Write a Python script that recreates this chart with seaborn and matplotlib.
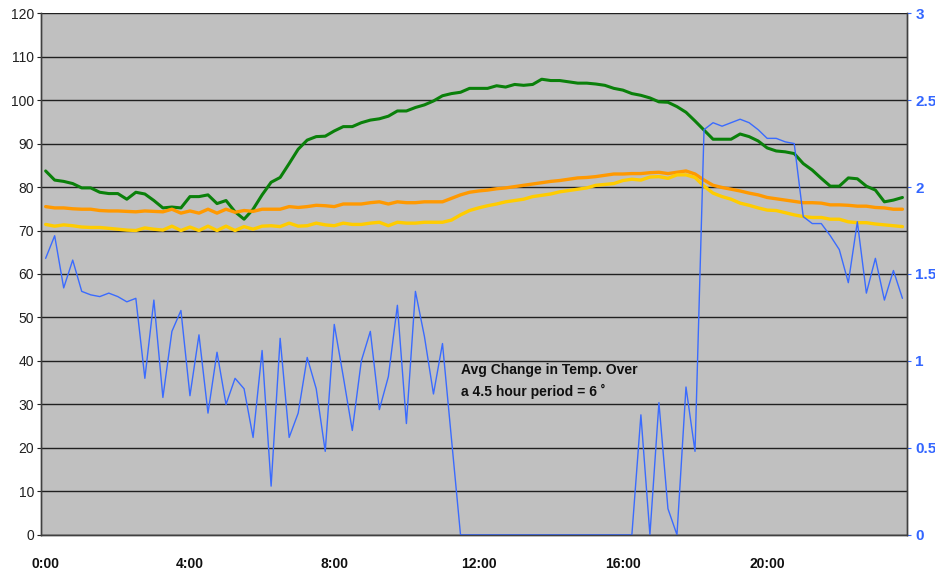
import numpy as np
import pandas as pd
import seaborn as sns
import matplotlib.pyplot as plt

# 15-minute readings over one day (96 slots)
times = ['%d:%02d' % (h, m) for h in range(24) for m in (0, 15, 30, 45)]

green = [83.7, 81.6, 81.3, 80.8, 79.8, 79.8, 78.8, 78.5, 78.5, 77.2,
         78.8, 78.4, 76.9, 75.2, 75.4, 75.2, 77.8, 77.8, 78.2, 76.2,
         76.9, 74.3, 72.6, 74.9, 78.2, 81.1, 82.2, 85.4, 88.7, 90.8,
         91.6, 91.7, 92.9, 93.9, 93.9, 94.8, 95.4, 95.7, 96.3, 97.5,
         97.5, 98.3, 98.9, 99.8, 101.0, 101.5, 101.8, 102.7, 102.7, 102.7,
         103.3, 103.0, 103.6, 103.4, 103.6, 104.8, 104.5, 104.5, 104.2, 103.9,
         103.9, 103.7, 103.4, 102.7, 102.3, 101.5, 101.1, 100.5, 99.6, 99.5,
         98.5, 97.2, 95.2, 93.1, 91.0, 91.0, 91.0, 92.2, 91.6, 90.6,
         89.0, 88.3, 88.1, 87.7, 85.4, 83.9, 82.0, 80.2, 80.2, 82.1,
         81.9, 80.2, 79.3, 76.6, 77.0, 77.6]

orange = [75.5, 75.2, 75.2, 75.0, 74.9, 74.9, 74.6, 74.5, 74.5, 74.4,
          74.3, 74.5, 74.4, 74.3, 74.9, 74.0, 74.5, 74.0, 74.9, 74.0,
          74.9, 74.2, 74.6, 74.4, 74.9, 74.9, 74.9, 75.5, 75.3, 75.5,
          75.8, 75.7, 75.5, 76.1, 76.1, 76.1, 76.4, 76.6, 76.1, 76.6,
          76.4, 76.4, 76.6, 76.6, 76.6, 77.4, 78.2, 78.8, 79.1, 79.3,
          79.6, 79.8, 80.1, 80.4, 80.7, 81.0, 81.3, 81.5, 81.8, 82.1,
          82.2, 82.4, 82.7, 83.0, 83.0, 83.1, 83.1, 83.3, 83.4, 83.1,
          83.4, 83.7, 83.0, 81.6, 80.4, 79.9, 79.5, 79.1, 78.6, 78.2,
          77.6, 77.3, 77.0, 76.7, 76.4, 76.4, 76.3, 75.9, 75.9, 75.8,
          75.6, 75.6, 75.3, 75.2, 74.9, 74.9]

yellow = [71.4, 71.0, 71.3, 71.1, 70.8, 70.7, 70.7, 70.5, 70.3, 70.1,
          70.0, 70.6, 70.3, 70.1, 71.0, 70.0, 70.8, 70.0, 71.0, 70.0,
          71.0, 70.0, 70.9, 70.3, 71.0, 71.1, 70.9, 71.7, 71.0, 71.1,
          71.7, 71.3, 71.1, 71.7, 71.4, 71.4, 71.7, 71.9, 71.1, 71.9,
          71.7, 71.7, 71.9, 71.9, 71.9, 72.4, 73.6, 74.6, 75.2, 75.7,
          76.1, 76.6, 76.9, 77.2, 77.8, 78.1, 78.4, 78.9, 79.2, 79.5,
          79.8, 80.4, 80.6, 80.8, 81.5, 81.8, 81.6, 82.3, 82.4, 82.0,
          82.8, 82.8, 82.2, 80.2, 78.6, 77.8, 77.2, 76.3, 75.8, 75.2,
          74.7, 74.6, 74.1, 73.6, 73.2, 73.0, 73.0, 72.6, 72.6, 72.0,
          71.8, 71.8, 71.5, 71.3, 71.1, 70.9]

# change in temperature, right axis (0-3)
change = [1.59, 1.72, 1.42, 1.58, 1.40, 1.38, 1.37, 1.39, 1.37, 1.34,
          1.36, 0.90, 1.35, 0.79, 1.17, 1.29, 0.80, 1.15, 0.70, 1.05,
          0.75, 0.90, 0.84, 0.56, 1.06, 0.28, 1.13, 0.56, 0.70, 1.02,
          0.84, 0.48, 1.21, 0.91, 0.60, 1.00, 1.17, 0.72, 0.91, 1.32,
          0.64, 1.40, 1.14, 0.81, 1.10, 0.55, 0.0, 0.0, 0.0, 0.0,
          0.0, 0.0, 0.0, 0.0, 0.0, 0.0, 0.0, 0.0, 0.0, 0.0,
          0.0, 0.0, 0.0, 0.0, 0.0, 0.0, 0.69, 0.0, 0.76, 0.15,
          0.0, 0.85, 0.48, 2.33, 2.37, 2.35, 2.37, 2.39, 2.37, 2.33,
          2.28, 2.28, 2.26, 2.25, 1.83, 1.79, 1.79, 1.72, 1.64, 1.45,
          1.80, 1.39, 1.59, 1.35, 1.52, 1.36]

df = pd.DataFrame({'slot': np.arange(len(times)), 'green': green,
                   'orange': orange, 'yellow': yellow, 'change': change})

sns.set_style('white')
plt.rcParams['font.family'] = ['Liberation Sans Narrow', 'Liberation Sans', 'DejaVu Sans']

fig, ax = plt.subplots(figsize=(9.35, 5.72), dpi=100)
fig.subplots_adjust(left=0.044, right=0.970, top=0.977, bottom=0.065)
ax.set_facecolor('#C0C0C0')
ax.set_axisbelow(True)

ax2 = ax.twinx()

sns.lineplot(x='slot', y='green', data=df, ax=ax, color='#0A800A', linewidth=2.2)
sns.lineplot(x='slot', y='orange', data=df, ax=ax, color='#FF9900', linewidth=2.4)
sns.lineplot(x='slot', y='yellow', data=df, ax=ax, color='#FFCC00', linewidth=2.4)
sns.lineplot(x='slot', y='change', data=df, ax=ax2, color='#3A6BFF', linewidth=1.0)

ax.set_xlim(-0.5, len(times) - 0.5)
ax.set_ylim(0, 120)
ax2.set_ylim(0, 3)

ax.set_yticks(range(0, 121, 10))
ax.yaxis.grid(True, color='#202020', linewidth=1.0)
ax.tick_params(axis='y', length=3, labelsize=10, pad=2, colors='#202020')

ax2.set_yticks([0, 0.5, 1, 1.5, 2, 2.5, 3])
ax2.set_yticklabels(['0', '0.5', '1', '1.5', '2', '2.5', '3'])
ax2.tick_params(axis='y', length=3, labelsize=11, pad=3, colors='#3366FF')
for t in ax2.get_yticklabels():
    t.set_fontweight('bold')

# ticks between every slot, labels every 4 hours
ax.set_xticks(np.arange(-0.5, len(times), 1.0), minor=True)
ax.set_xticks(range(0, len(times), 16))
ax.set_xticklabels([times[i] for i in range(0, len(times), 16)],
                   fontweight='bold', fontsize=10)
ax.tick_params(axis='x', which='minor', length=4, color='#303030')
ax.tick_params(axis='x', which='major', length=0, pad=16, colors='#101010')

for a in (ax, ax2):
    a.set_xlabel('')
    a.set_ylabel('')
    for s in a.spines.values():
        s.set_color('#404040')
        s.set_linewidth(1.0)
    a.spines['top'].set_visible(False)

ax.text(46, 39.5, 'Avg Change in Temp. Over\na 4.5 hour period = 6 \u02da',
        fontsize=10, fontweight='bold', color='#101010', va='top', ha='left',
        linespacing=1.6)

plt.savefig('out.png', dpi=100)
